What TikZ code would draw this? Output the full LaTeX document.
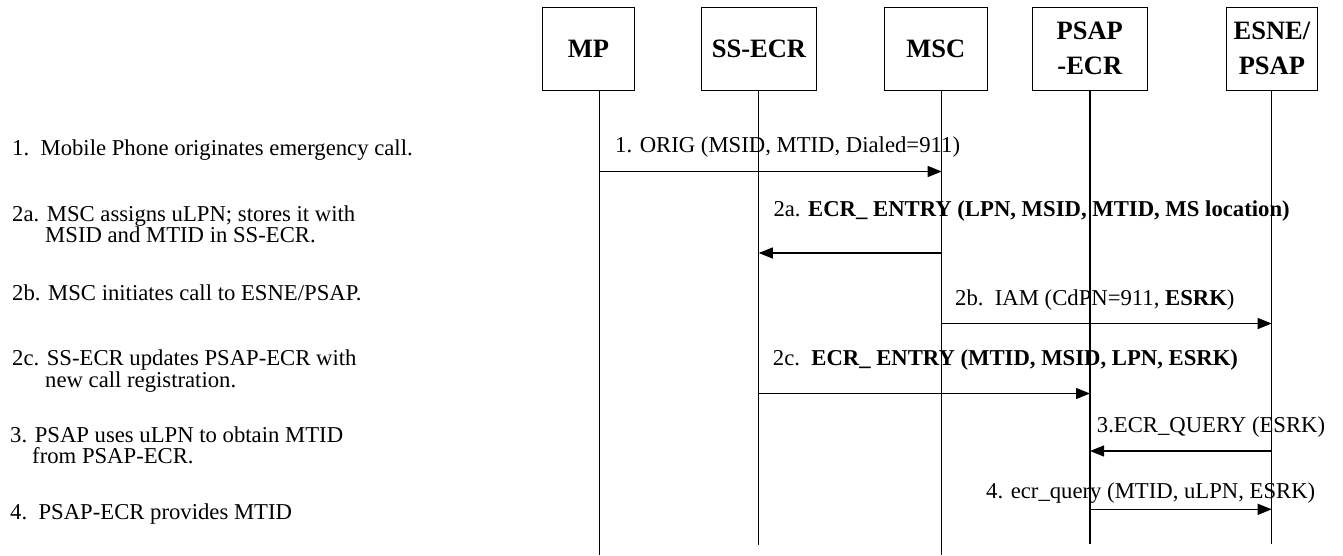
\documentclass[tikz,border=0pt]{standalone}
\usepackage{fontspec}
\setmainfont{Liberation Serif}
\usetikzlibrary{arrows.meta}
\begin{document}
\begin{tikzpicture}[x=1pt,y=-1pt,
  hdr/.style={draw, line width=1pt, font=\fontsize{26.5}{35}\selectfont\bfseries, align=center, inner sep=0pt},
  life/.style={line width=1.1pt},
  msg/.style={line width=1.2pt, -{Triangle[length=14pt,width=11pt]}},
  lbl/.style={anchor=base west, inner sep=0pt, font=\fontsize{22.7}{23}\selectfont},
  note/.style={anchor=base west, inner sep=0pt, font=\fontsize{22.7}{23}\selectfont}]
\useasboundingbox (0,0) rectangle (1343,555);
% header boxes
\node[hdr, minimum width=91.6pt, minimum height=82.7pt] (mp) at (588.5,48.7) {MP};
\node[hdr, minimum width=114.3pt, minimum height=82.7pt] (ss) at (758.9,48.7) {SS-ECR};
\node[hdr, minimum width=103.7pt, minimum height=82.7pt] (msc) at (935.9,48.7) {MSC};
\node[hdr, minimum width=115pt, minimum height=82.7pt] (pe) at (1089.8,48.7) {PSAP\\-ECR};
\node[hdr, minimum width=91.7pt, minimum height=82.7pt] (es) at (1271.9,48.7) {ESNE/\\PSAP};
% lifeline ends
\coordinate (mpE) at (599.3,555);
\coordinate (ssE) at (758.8,545);
\coordinate (mscE) at (941.7,555);
\coordinate (peE) at (1090,544);
\coordinate (esE) at (1271.7,544);
\draw[life] (mp.south -| mpE) -- (mpE);
\draw[life] (ss.south -| ssE) -- (ssE);
\draw[life] (msc.south -| mscE) -- (mscE);
\draw[life] (pe.south -| peE) -- (peE);
\draw[life] (es.south -| esE) -- (esE);
% message heights
\coordinate (y1) at (0,171.5);
\coordinate (y2a) at (0,253);
\coordinate (y2b) at (0,323.5);
\coordinate (y2c) at (0,393.5);
\coordinate (y3) at (0,451);
\coordinate (y4) at (0,509.3);
\draw[msg] (mpE |- y1) -- (mscE |- y1);
\draw[msg] (mscE |- y2a) -- (ssE |- y2a);
\draw[msg] (mscE |- y2b) -- (esE |- y2b);
\draw[msg] (ssE |- y2c) -- (peE |- y2c);
\draw[msg] (esE |- y3) -- (peE |- y3);
\draw[msg] (peE |- y4) -- (esE |- y4);
% message labels
\node[lbl] (m1) at (615,152) {1. ORIG (MSID, MTID, Dialed=911)};
\node[lbl] (m2a) at (773.3,216) {2a. \textbf{ECR\_ ENTRY (LPN, MSID, MTID, MS location)}};
\node[lbl] (m2b) at (955,305) {2b.\ \ IAM (CdPN=911, \textbf{ESRK})};
\node[lbl] (m2c) at (772.7,365) {2c.\ \ \textbf{ECR\_ ENTRY (MTID, MSID, LPN, ESRK)}};
\node[lbl] (m3) at (1096.7,432) {3.ECR\_QUERY (ESRK)};
\node[lbl] (m4) at (986,498) {4. ecr\_query (MTID, uLPN, ESRK)};
% notes
\node[note] (n1) at (12,155) {1.\ \ Mobile Phone originates emergency call.};
\node[note] (n2a) at (12,221) {2a. MSC assigns uLPN; stores it with};
\node[note] (n2aa) at (45,242) {MSID and MTID in SS-ECR.};
\node[note] (n2b) at (12,300) {2b. MSC initiates call to ESNE/PSAP.};
\node[note] (n2c) at (12,365) {2c. SS-ECR updates PSAP-ECR with};
\node[note] (n2cc) at (45,387) {new call registration.};
\node[note] (n3) at (10,442) {3. PSAP uses uLPN to obtain MTID};
\node[note] (n3a) at (32,463) {from PSAP-ECR.};
\node[note] (n4) at (10,519) {4.\ \ PSAP-ECR provides MTID};
\end{tikzpicture}
\end{document}
